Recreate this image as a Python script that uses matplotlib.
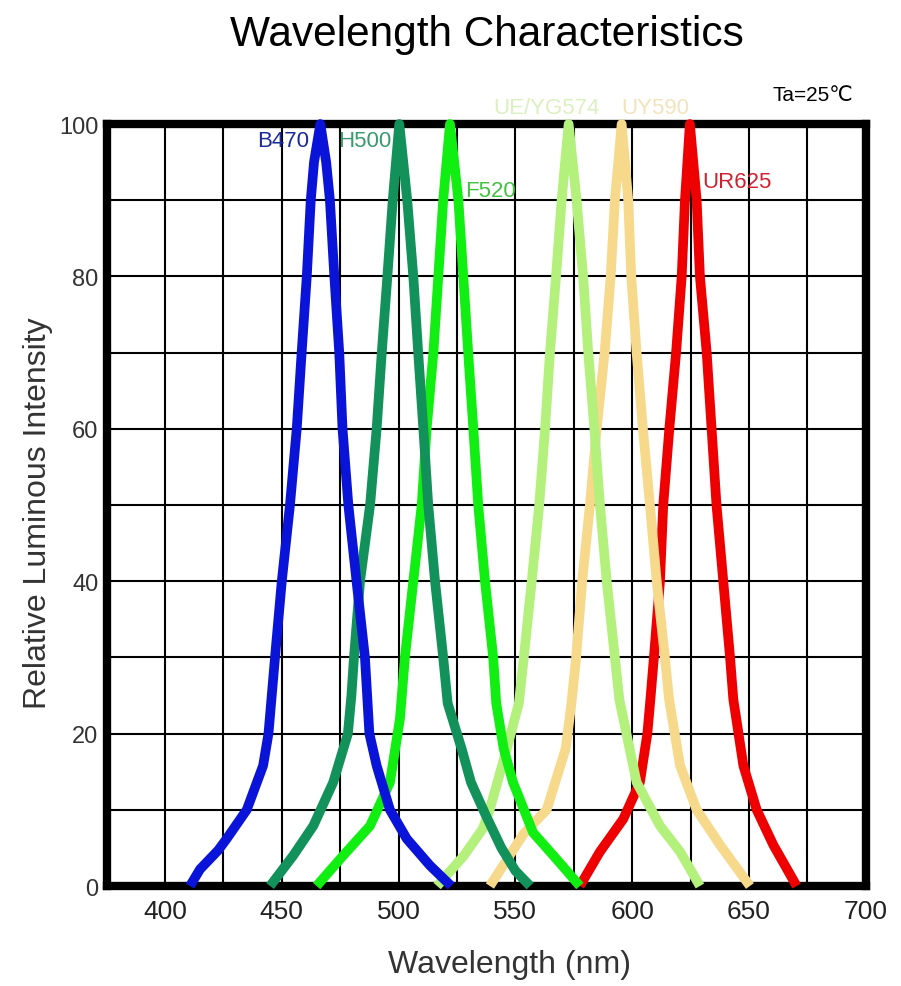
import matplotlib
matplotlib.use('Agg')
import matplotlib.pyplot as plt
from matplotlib import font_manager
from matplotlib.ticker import MultipleLocator

# curve points (wavelength nm, relative intensity %)
b470_wl = [410.7, 415.0, 422.8, 426.4, 435.0, 442.0, 444.3, 447.1, 450.0, 453.5, 456.4, 458.5,
           460.7, 462.4, 463.8, 466.5, 469.0, 470.6, 472.5, 474.6, 476.0, 478.5, 482.0, 485.6,
           487.5, 490.6, 496.3, 503.5, 513.4, 522.5]
b470_rel = [0, 2.2, 4.7, 6.2, 10, 15.8, 20, 30, 40, 50, 60, 70,
            80, 90, 95, 100, 95, 90, 80, 70, 60, 50, 40, 30,
            20, 15.8, 10, 6.2, 2.7, 0]

h500_wl = [445.0, 454.9, 463.5, 472.0, 478.3, 479.8, 480.9, 483.5, 487.8, 490.6, 492.8, 495.2,
           497.5, 500.3, 503.7, 506.3, 508.4, 510.6, 512.7, 515.6, 519.1, 521.0, 527.0, 531.0,
           537.0, 544.0, 550.0, 556.3]
h500_rel = [0, 4, 7.9, 13.6, 20, 25, 30, 40, 50, 60, 70, 80,
            90, 100, 90, 80, 70, 60, 50, 40, 30, 24, 18, 13.6,
            9.5, 5, 2, 0]

f520_wl = [464.9, 476.3, 487.8, 496.3, 500.6, 502.7, 506.3, 509.9, 512.0, 514.9, 517.0, 519.1,
           522.0, 525.6, 527.7, 529.8, 532.0, 534.1, 537.0, 540.5, 541.8, 545.0, 549.0, 557.6,
           567.7, 577.6]
f520_rel = [0, 4, 7.9, 13.6, 22, 30, 40, 50, 60, 70, 80, 90,
            100, 90, 80, 70, 60, 50, 40, 30, 24, 18, 13.6, 7,
            3.5, 0]

yg574_wl = [516.5, 528.0, 536.0, 539.0, 546.3, 551.5, 553.6, 557.0, 560.2, 562.7, 564.8, 567.4,
            569.8, 572.8, 576.2, 579.0, 581.2, 583.8, 586.2, 589.1, 592.6, 594.5, 601.9, 611.9,
            620.5, 629.0]
yg574_rel = [0, 4, 7.5, 10, 18, 24, 30, 40, 50, 60, 70, 80,
             90, 100, 90, 80, 70, 60, 50, 40, 30, 24.5, 13.6, 7.9,
             4.5, 0]

uy590_wl = [539.1, 553.4, 563.4, 571.5, 574.0, 576.0, 578.6, 581.9, 584.8, 588.2, 590.8, 592.6,
            595.5, 598.3, 599.6, 601.9, 604.6, 607.6, 610.5, 614.0, 615.8, 620.5, 627.6, 637.6,
            650.4]
uy590_rel = [0, 6.8, 10, 18, 24, 30, 40, 50, 60, 70, 80, 90,
             100, 90, 80, 70, 60, 50, 40, 30, 24.5, 15.8, 10, 5.4,
             0]

ur625_wl = [577.6, 586.2, 596.2, 603.3, 606.5, 607.8, 609.3, 611.9, 613.3, 615.9, 618.8, 621.2,
            622.6, 624.7, 627.6, 629.0, 631.9, 634.0, 636.1, 639.0, 641.9, 643.3, 647.6, 653.3,
            660.4, 670.4]
ur625_rel = [0, 4.5, 8.8, 13.6, 20, 24.5, 30, 40, 50, 60, 70, 80,
             90, 100, 90, 80, 70, 60, 50, 40, 30, 24.5, 15.8, 10,
             5.4, 0]

x_ticks = [400, 450, 500, 550, 600, 650, 700]
y_ticks = [0, 20, 40, 60, 80, 100]

# condensed font if available, otherwise plain Arial metrics
names = {f.name for f in font_manager.fontManager.ttflist}
narrow = 'Liberation Sans Narrow' in names
lab_font = 'Liberation Sans Narrow' if narrow else 'Liberation Sans'
scale = 1.18 if narrow else 1.0

plt.rcParams['font.family'] = ['Liberation Sans', 'DejaVu Sans']

fig = plt.figure(figsize=(9.01, 9.87), dpi=100)
ax = fig.add_axes([0.1183, 0.1013, 0.8426, 0.772])

# drawn red first so the shorter wavelengths sit on top
series = [
    (ur625_wl, ur625_rel, '#ee0000'),
    (uy590_wl, uy590_rel, '#f6d98a'),
    (yg574_wl, yg574_rel, '#b4f07c'),
    (f520_wl, f520_rel, '#11ee11'),
    (h500_wl, h500_rel, '#13915a'),
    (b470_wl, b470_rel, '#0a14d8'),
]
for wl, rel, col in series:
    ax.plot(wl, rel, color=col, lw=7, solid_joinstyle='round', solid_capstyle='butt',
            zorder=4, clip_on=False)

ax.set_xlim(375, 700)
ax.set_ylim(0, 100)
ax.xaxis.set_minor_locator(MultipleLocator(25))
ax.yaxis.set_minor_locator(MultipleLocator(10))
ax.set_xticks(x_ticks)
ax.set_yticks(y_ticks)
ax.grid(True, which='both', color='black', lw=1.5)
ax.set_axisbelow(True)
for sp in ax.spines.values():
    sp.set_linewidth(6)
    sp.set_color('black')
    sp.set_zorder(3)

ax.tick_params(which='both', length=0)
ax.tick_params(axis='x', pad=9, labelsize=19 * scale, labelcolor='#222222')
ax.tick_params(axis='y', pad=6, labelsize=17, labelcolor='#333333')
for t in ax.get_xticklabels():
    t.set_family(lab_font)

ax.set_xlabel('Wavelength (nm)', fontsize=23 * scale, family=lab_font, color='#333333',
              ha='center', va='center')
ax.set_ylabel('Relative Luminous Intensity', fontsize=23 * scale, family=lab_font,
              color='#333333', ha='center', va='center')
ax.xaxis.set_label_coords(0.531, -0.102)
ax.yaxis.set_label_coords(-0.090, 0.49)

fig.text(0.5405, 0.9645, 'Wavelength Characteristics', ha='center', va='center',
         fontsize=30.5, color='black')
fig.text(0.902, 0.903, 'Ta=25℃', ha='center', va='center', fontsize=15,
         family=['Liberation Sans', 'DejaVu Sans'], color='black')

# curve names
labels = [
    ('B470', 450.5, 97.9, '#1a2a9a'),
    ('H500', 485.6, 97.9, '#3a9a70'),
    ('F520', 539.2, 91.3, '#44c044'),
    ('UE/YG574', 563.5, 102.2, '#dcefc0'),
    ('UY590', 609.8, 102.2, '#f3e3bd'),
    ('UR625', 644.8, 92.5, '#cc2233'),
]
for txt, x, y, col in labels:
    ax.text(x, y, txt, ha='center', va='center', fontsize=16, color=col,
            zorder=5 if y > 100 else 3, clip_on=False)

fig.savefig('out.png', dpi=100, facecolor='white')
